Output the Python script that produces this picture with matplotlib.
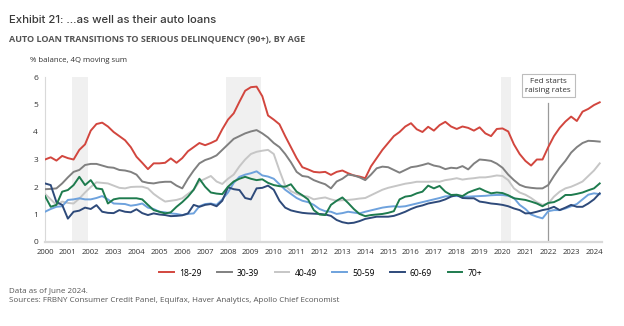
import matplotlib
matplotlib.use("Agg")
import matplotlib.pyplot as plt
import numpy as np

plt.rcParams["font.family"] = ["Open Sans", "DejaVu Sans"]

# quarterly, 2000Q1 .. 2024Q2
age_groups = ["18-29", "30-39", "40-49", "50-59", "60-69", "70+"]
colors = ["#d2463e", "#808080", "#c6c6c6", "#6ea2dd", "#2e4a7a", "#1e7b4e"]

age_18_29 = [
    3.00, 3.08, 2.96, 3.13, 3.05, 3.00, 3.35, 3.55, 4.05, 4.29, 4.34, 4.20,
    4.00, 3.85, 3.70, 3.45, 3.10, 2.88, 2.65, 2.86, 2.86, 2.88, 3.04, 2.88,
    3.05, 3.30, 3.45, 3.60, 3.52, 3.60, 3.70, 4.10, 4.45, 4.68, 5.10, 5.50,
    5.63, 5.65, 5.30, 4.60, 4.45, 4.28, 3.85, 3.45, 3.05, 2.72, 2.64, 2.55,
    2.53, 2.55, 2.44, 2.55, 2.60, 2.50, 2.42, 2.38, 2.32, 2.75, 3.05, 3.35,
    3.60, 3.85, 4.00, 4.20, 4.32, 4.10, 4.00, 4.19, 4.05, 4.25, 4.37, 4.20,
    4.11, 4.20, 4.15, 4.05, 4.17, 3.95, 3.85, 4.11, 4.13, 4.02, 3.55, 3.20,
    2.95, 2.78, 3.00, 3.00, 3.45, 3.85, 4.15, 4.38, 4.56, 4.40, 4.74, 4.84,
    4.98, 5.08,
]
age_30_39 = [
    1.92, 1.93, 1.95, 2.13, 2.35, 2.55, 2.62, 2.80, 2.84, 2.84, 2.78, 2.72,
    2.70, 2.62, 2.60, 2.55, 2.45, 2.20, 2.15, 2.13, 2.17, 2.19, 2.19, 2.05,
    1.95, 2.30, 2.60, 2.86, 2.98, 3.05, 3.15, 3.35, 3.55, 3.75, 3.85, 3.95,
    4.02, 4.07, 3.95, 3.80, 3.60, 3.45, 3.20, 2.90, 2.55, 2.40, 2.37, 2.25,
    2.17, 2.10, 1.95, 2.20, 2.30, 2.45, 2.42, 2.35, 2.25, 2.45, 2.68, 2.74,
    2.72, 2.62, 2.52, 2.62, 2.72, 2.75, 2.80, 2.86, 2.78, 2.74, 2.65, 2.70,
    2.68, 2.76, 2.64, 2.85, 3.00, 2.98, 2.95, 2.85, 2.70, 2.45, 2.25, 2.08,
    2.00, 1.97, 1.95, 1.95, 2.07, 2.40, 2.70, 2.95, 3.25, 3.45, 3.60, 3.68,
    3.67, 3.65,
]
age_40_49 = [
    1.75, 1.55, 1.35, 1.47, 1.42, 1.40, 1.58, 1.80, 2.00, 2.17, 2.15, 2.13,
    2.05, 1.97, 1.95, 2.00, 2.01, 2.01, 1.95, 1.75, 1.60, 1.47, 1.50, 1.53,
    1.59, 1.75, 1.90, 2.20, 2.30, 2.40, 2.20, 2.11, 2.30, 2.45, 2.75, 3.00,
    3.20, 3.28, 3.32, 3.35, 3.20, 2.60, 2.05, 1.85, 1.75, 1.68, 1.65, 1.55,
    1.59, 1.62, 1.55, 1.50, 1.52, 1.53, 1.55, 1.58, 1.60, 1.70, 1.80, 1.90,
    1.97, 2.02, 2.07, 2.12, 2.15, 2.19, 2.19, 2.19, 2.20, 2.19, 2.25, 2.28,
    2.32, 2.27, 2.30, 2.32, 2.35, 2.35, 2.38, 2.42, 2.40, 2.25, 1.95, 1.80,
    1.72, 1.60, 1.45, 1.35, 1.40, 1.65, 1.83, 1.95, 2.01, 2.10, 2.20, 2.40,
    2.60, 2.86,
]
age_50_59 = [
    1.10, 1.20, 1.28, 1.30, 1.53, 1.55, 1.59, 1.55, 1.55, 1.60, 1.67, 1.55,
    1.40, 1.39, 1.38, 1.32, 1.35, 1.40, 1.25, 1.20, 1.10, 1.08, 1.04, 1.02,
    0.98, 1.02, 1.04, 1.30, 1.38, 1.40, 1.35, 1.55, 1.80, 2.15, 2.37, 2.45,
    2.50, 2.57, 2.42, 2.38, 2.30, 2.10, 1.90, 1.75, 1.60, 1.50, 1.45, 1.35,
    1.20, 1.12, 1.10, 1.02, 1.05, 1.10, 1.07, 1.04, 1.10, 1.15, 1.20, 1.25,
    1.28, 1.30, 1.28, 1.30, 1.35, 1.40, 1.45, 1.50, 1.55, 1.60, 1.66, 1.67,
    1.67, 1.66, 1.65, 1.66, 1.67, 1.68, 1.70, 1.71, 1.71, 1.68, 1.60, 1.35,
    1.20, 1.00, 0.92, 0.86, 1.12, 1.16, 1.16, 1.22, 1.30, 1.38, 1.55, 1.72,
    1.77, 1.74,
]
age_60_69 = [
    2.13, 2.07, 1.45, 1.35, 0.85, 1.10, 1.14, 1.25, 1.20, 1.34, 1.10, 1.06,
    1.05, 1.16, 1.10, 1.08, 1.19, 1.05, 0.98, 1.04, 1.00, 0.98, 0.94, 0.95,
    0.97, 1.04, 1.35, 1.28, 1.35, 1.38, 1.30, 1.50, 1.99, 1.92, 1.89, 1.60,
    1.55, 1.95, 1.97, 2.05, 1.90, 1.50, 1.25, 1.15, 1.10, 1.06, 1.04, 1.03,
    1.02, 1.00, 0.95, 0.80, 0.72, 0.68, 0.70, 0.76, 0.84, 0.88, 0.92, 0.92,
    0.92, 0.95, 1.02, 1.10, 1.20, 1.28, 1.33, 1.40, 1.44, 1.48, 1.55, 1.65,
    1.71, 1.60, 1.59, 1.59, 1.47, 1.44, 1.40, 1.38, 1.35, 1.30, 1.22, 1.16,
    1.04, 1.05, 1.10, 1.16, 1.20, 1.28, 1.16, 1.25, 1.35, 1.28, 1.28, 1.40,
    1.55, 1.77,
]
age_70_plus = [
    1.67, 1.28, 1.35, 1.83, 1.89, 2.07, 2.37, 2.07, 2.25, 1.95, 1.92, 1.40,
    1.55, 1.59, 1.59, 1.59, 1.59, 1.55, 1.35, 1.16, 1.10, 1.04, 1.08, 1.28,
    1.45, 1.65, 1.90, 2.30, 2.01, 1.80, 1.76, 1.74, 2.01, 2.20, 2.30, 2.37,
    2.30, 2.25, 2.28, 2.15, 2.07, 2.03, 2.01, 2.10, 1.83, 1.70, 1.55, 1.16,
    1.00, 0.98, 1.35, 1.50, 1.62, 1.42, 1.20, 1.02, 0.94, 0.98, 1.00, 1.02,
    1.06, 1.12, 1.55, 1.65, 1.68, 1.77, 1.83, 2.05, 1.95, 2.04, 1.83, 1.71,
    1.72, 1.67, 1.80, 1.88, 1.95, 1.85, 1.77, 1.80, 1.78, 1.70, 1.59, 1.56,
    1.53, 1.47, 1.40, 1.30, 1.42, 1.45, 1.55, 1.71, 1.71, 1.75, 1.80, 1.88,
    1.95, 2.13,
]
series = [age_18_29, age_30_39, age_40_49, age_50_59, age_60_69, age_70_plus]

recessions = [(2001.2, 2001.9), (2007.9, 2009.45), (2019.95, 2020.35)]
fed_hike = 2022.0
years = list(range(2000, 2025))

quarters = 2000 + np.arange(len(age_18_29)) * 0.25

fig = plt.figure(figsize=(6.24, 3.26), dpi=100)
ax = fig.add_axes([45 / 624, 1 - 242 / 326, 557 / 624, 165 / 326])

for lo, hi in recessions:
    ax.axvspan(lo, hi, color="#f0f0f0", lw=0, zorder=0)

for name, vals, c in zip(age_groups, series, colors):
    ax.plot(quarters, vals, color=c, lw=1.4, label=name, zorder=3)

ax.axvline(fed_hike, ymax=0.84, color="#9a9a9a", lw=0.9, zorder=2)
ax.text(fed_hike, 5.68, "Fed starts\nraising rates", ha="center", va="center",
        fontsize=5.8, color="#333333", linespacing=1.3,
        bbox=dict(boxstyle="square,pad=0.45", fc="white", ec="#bdbdbd", lw=0.8))

ax.set_xlim(2000, 2024.35)
ax.set_ylim(0, 6)
ax.set_xticks(years)
ax.set_xticklabels([str(y) for y in years], fontsize=5.6, color="#333333")
ax.set_yticks(range(7))
ax.set_yticklabels([str(v) for v in range(7)], fontsize=6, color="#333333")
ax.tick_params(axis="y", length=0, pad=5)
ax.tick_params(axis="x", length=0, pad=5)
for s in ["top", "right"]:
    ax.spines[s].set_visible(False)
ax.spines["left"].set_color("#d9d9d9")
ax.spines["left"].set_linewidth(0.8)
ax.spines["bottom"].set_color("#d9d9d9")
ax.spines["bottom"].set_linewidth(1.6)

ax.legend(loc="center", bbox_to_anchor=(0.495, (242 - 273) / 165), ncol=6, frameon=False,
          fontsize=6.2, handlelength=1.7, columnspacing=1.8, handletextpad=0.6)

fig.text(9 / 624, 1 - 20 / 326, "Exhibit 21: ...as well as their auto loans",
         fontsize=8.2, color="#3a3a3a", va="center", weight="medium",
         family=["Inter", "DejaVu Sans"])
fig.text(9 / 624, 1 - 39 / 326, "AUTO LOAN TRANSITIONS TO SERIOUS DELINQUENCY (90+), BY AGE",
         fontsize=6.5, color="#555555", weight="bold", va="center")
fig.text(30 / 624, 1 - 61 / 326, "% balance, 4Q moving sum",
         fontsize=5.6, color="#333333", va="center")
fig.text(9 / 624, 1 - 291 / 326, "Data as of June 2024.",
         fontsize=5.8, color="#555555", va="center")
fig.text(9 / 624, 1 - 301 / 326,
         "Sources: FRBNY Consumer Credit Panel, Equifax, Haver Analytics, Apollo Chief Economist",
         fontsize=5.8, color="#555555", va="center")

fig.savefig("out.png", dpi=100)
